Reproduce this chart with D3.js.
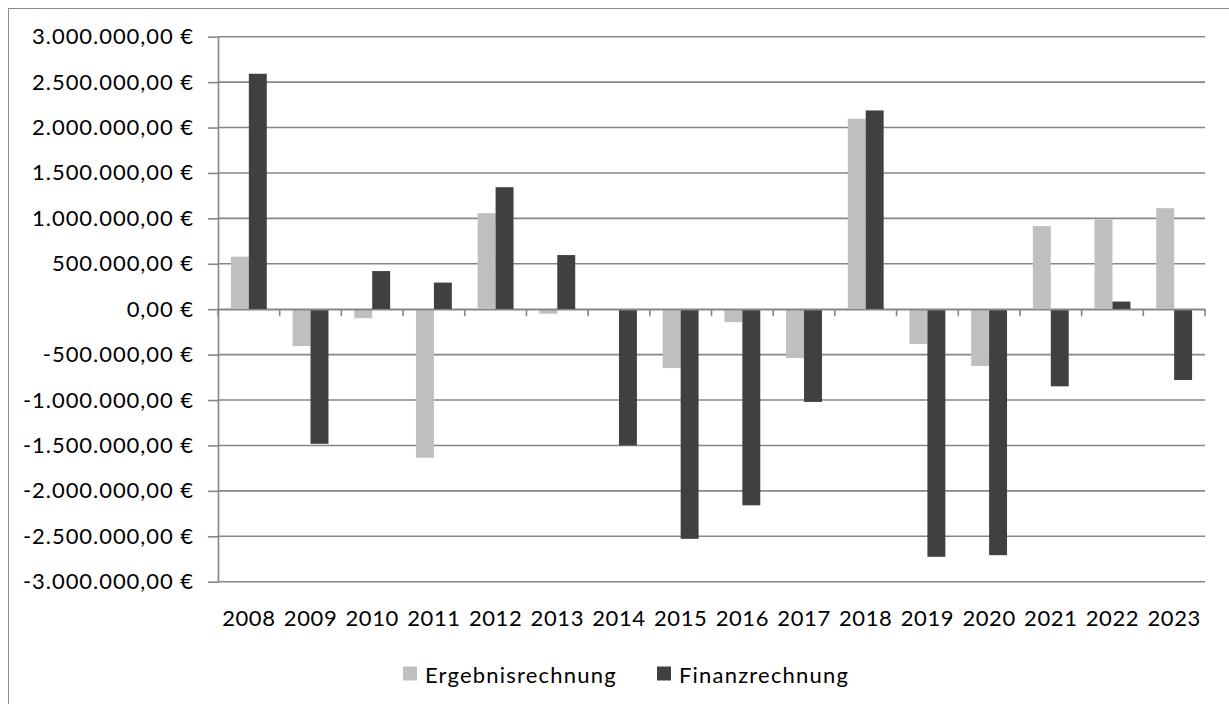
<!DOCTYPE html>
<html>
<head>
<meta charset="utf-8">
<script src="https://cdn.jsdelivr.net/npm/d3@7"></script>
<style>
  body { margin: 0; background: #fff; }
  svg text { font-family: Lato, "Open Sans", sans-serif; fill: #000; }
</style>
</head>
<body>
<div id="container"></div>
<script>
const years = ["2008","2009","2010","2011","2012","2013","2014","2015","2016","2017","2018","2019","2020","2021","2022","2023"];
const seriesNames = ["Ergebnisrechnung", "Finanzrechnung"];
const ergebnis = [578000, -406000, -99000, -1635000, 1057000, -50000, 0, -648000, -143000, -538000, 2097000, -384000, -626000, 915000, 988000, 1112000];
const finanz = [2592000, -1482000, 420000, 293000, 1343000, 596000, -1500000, -2528000, -2159000, -1021000, 2188000, -2726000, -2708000, -849000, 84000, -779000];
const yTicks = [3000000, 2500000, 2000000, 1500000, 1000000, 500000, 0, -500000, -1000000, -1500000, -2000000, -2500000, -3000000];
const colors = ["#bfbfbf", "#404040"];

const width = 1229, height = 704;
const plot = { left: 218, right: 1205, top: 36.7, bottom: 581.7 };

const svg = d3.select("#container")
              .append("svg")
              .attr("width", width)
              .attr("height", height);

// outer chart border (right/bottom edges run off the picture)
svg.append("rect")
   .attr("x", 8.5).attr("y", 8.5)
   .attr("width", 1240).attr("height", 720)
   .attr("fill", "none")
   .attr("stroke", "#8c8c8c")
   .attr("stroke-width", 1);

const euro = d3.formatLocale({
  decimal: ",", thousands: ".", grouping: [3], currency: ["", " €"], minus: "-"
}).format("$,.2f");

const y = d3.scaleLinear()
            .domain([-3000000, 3000000])
            .range([plot.bottom, plot.top]);

const x0 = d3.scaleBand()
             .domain(years)
             .range([plot.left, plot.right]);

const x1 = d3.scaleBand()
             .domain(seriesNames)
             .range([0, x0.bandwidth()])
             .paddingOuter(0.72);

// gridlines
svg.append("g")
   .selectAll("line")
   .data(yTicks)
   .enter()
   .append("line")
   .attr("x1", plot.left)
   .attr("x2", plot.right)
   .attr("y1", (d) => y(d))
   .attr("y2", (d) => y(d))
   .attr("stroke", "#868686")
   .attr("stroke-width", 1.6);

// bars
const rows = years.map((yr, i) => ({ year: yr, values: [ergebnis[i], finanz[i]] }));
const groups = svg.append("g")
                  .selectAll("g")
                  .data(rows)
                  .enter()
                  .append("g")
                  .attr("transform", (d) => "translate(" + x0(d.year) + ",0)");

groups.selectAll("rect")
      .data((d) => d.values.map((v, k) => ({ name: seriesNames[k], value: v, k: k })))
      .enter()
      .append("rect")
      .attr("x", (d) => x1(d.name))
      .attr("width", x1.bandwidth())
      .attr("y", (d) => y(Math.max(0, d.value)))
      .attr("height", (d) => Math.abs(y(d.value) - y(0)))
      .attr("fill", (d) => colors[d.k]);

// y axis
const yAxis = d3.axisLeft(y)
                .tickValues(yTicks)
                .tickFormat(euro)
                .tickSizeInner(10)
                .tickSizeOuter(0)
                .tickPadding(14);
const yG = svg.append("g")
              .attr("transform", "translate(" + plot.left + ",0)")
              .call(yAxis);
yG.select(".domain").attr("stroke", "#868686").attr("stroke-width", 1.6);
yG.selectAll(".tick line").attr("stroke", "#868686").attr("stroke-width", 1.6);
yG.selectAll(".tick text")
  .style("font-size", "22px")
  .style("letter-spacing", "0.95px")
  .attr("fill", "#000");

// x axis on zero line, ticks at category boundaries
const xAxis = d3.axisBottom(x0).tickSize(0).tickPadding(0);
const xG = svg.append("g")
              .attr("transform", "translate(0," + y(0) + ")")
              .call(xAxis);
xG.select(".domain").attr("stroke", "#868686").attr("stroke-width", 1.6);
xG.selectAll(".tick text")
  .style("font-size", "22px")
  .style("letter-spacing", "0.6px")
  .attr("fill", "#000")
  .attr("dy", null)
  .attr("y", plot.bottom + 44 - y(0));

const boundaries = years.map((d) => x0(d)).concat([x0(years[years.length - 1]) + x0.bandwidth()]);
xG.append("g")
  .selectAll("line")
  .data(boundaries)
  .enter()
  .append("line")
  .attr("x1", (d) => d)
  .attr("x2", (d) => d)
  .attr("y1", 0)
  .attr("y2", 7)
  .attr("stroke", "#868686")
  .attr("stroke-width", 1.6);

// legend
const legendX = [403, 657];
const legend = svg.append("g")
                  .selectAll("g")
                  .data(seriesNames)
                  .enter()
                  .append("g")
                  .attr("transform", (d, i) => "translate(" + legendX[i] + ",666.5)");
legend.append("rect")
      .attr("width", 14)
      .attr("height", 14)
      .attr("fill", (d, i) => colors[i]);
legend.append("text")
      .attr("x", 22)
      .attr("y", 16)
      .style("font-size", "22px")
      .style("letter-spacing", "1.2px")
      .text((d) => d);
</script>
</body>
</html>
